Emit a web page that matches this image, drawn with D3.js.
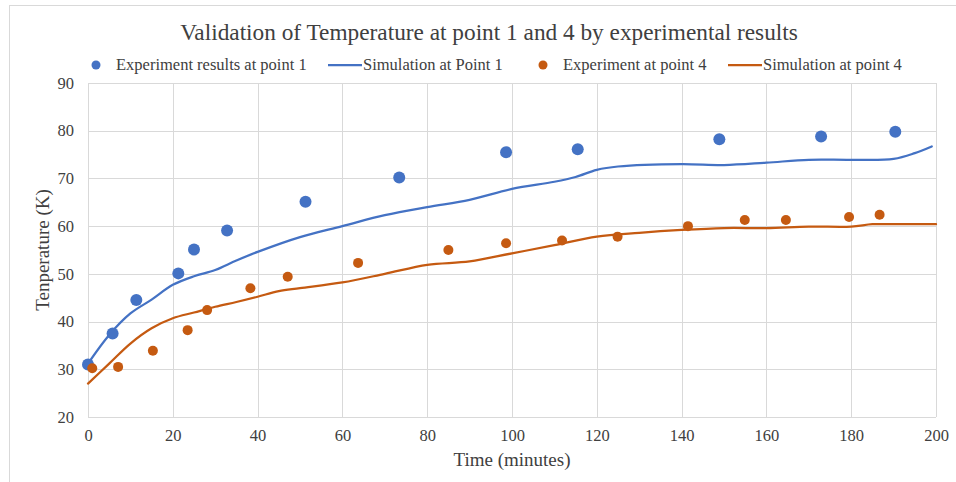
<!DOCTYPE html>
<html>
<head>
<meta charset="utf-8">
<script src="https://cdn.jsdelivr.net/npm/d3@7"></script>
<style>
  body { margin: 0; background: #fff; }
  text { font-family: "Liberation Serif", "Times New Roman", serif; fill: #404040; }
</style>
</head>
<body>
<div id="chart"></div>
<script>
// Experimental points
const expTime1 = [0, 5.8, 11.4, 21.3, 25.0, 32.8, 51.3, 73.4, 98.6, 115.5, 148.9, 172.9, 190.4];
const expTemp1 = [31.0, 37.5, 44.5, 50.1, 55.1, 59.1, 65.1, 70.2, 75.5, 76.1, 78.2, 78.8, 79.8];

const expTime4 = [1.0, 7.1, 15.3, 23.5, 28.1, 38.3, 47.1, 63.7, 85.0, 98.6, 111.8, 124.9, 141.5, 154.9, 164.6, 179.5, 186.7];
const expTemp4 = [30.2, 30.5, 33.9, 38.2, 42.4, 47.0, 49.4, 52.3, 55.0, 56.4, 57.0, 57.8, 60.0, 61.3, 61.3, 61.9, 62.4];

// Simulation curves
const simTime1 = [0, 5, 10, 15, 20, 25, 30, 35, 40, 50, 60, 70, 80, 90, 100, 110, 115, 120, 125, 140, 150, 160, 170, 180, 190, 195, 199];
const simTemp1 = [31.2, 37.2, 41.7, 44.6, 47.7, 49.5, 50.8, 52.8, 54.6, 57.7, 60.0, 62.3, 64.0, 65.5, 67.8, 69.3, 70.3, 71.8, 72.5, 73.0, 72.8, 73.3, 73.9, 73.9, 74.1, 75.3, 76.7];

const simTime4 = [0, 5, 10, 15, 20, 25, 30, 35, 40, 45, 50, 60, 70, 80, 90, 100, 110, 120, 130, 140, 150, 160, 170, 180, 185, 190, 200];
const simTemp4 = [27.0, 31.2, 35.4, 38.6, 40.7, 41.9, 43.1, 44.1, 45.2, 46.4, 47.0, 48.2, 50.0, 51.9, 52.6, 54.3, 56.0, 57.8, 58.6, 59.2, 59.6, 59.6, 59.9, 59.9, 60.4, 60.4, 60.4];

const xTicks = [0, 20, 40, 60, 80, 100, 120, 140, 160, 180, 200];
const yTicks = [20, 30, 40, 50, 60, 70, 80, 90];

const blue = "#4472C4";
const orange = "#C55A11";
const grid = "#d9d9d9";

const W = 956, H = 482;
const margin = { top: 83, right: 20, bottom: 65, left: 88 };
const width = W - margin.left - margin.right;
const height = H - margin.top - margin.bottom;

const svgRoot = d3.select("#chart").append("svg")
    .attr("width", W)
    .attr("height", H);

// chart frame
svgRoot.append("rect")
    .attr("x", 9.5).attr("y", 5.5)
    .attr("width", 980).attr("height", 500)
    .attr("fill", "none")
    .attr("stroke", grid);

const svg = svgRoot.append("g")
    .attr("transform", `translate(${margin.left},${margin.top})`);

const x = d3.scaleLinear().domain([0, 200]).range([0, width]);
const y = d3.scaleLinear().domain([20, 90]).range([height, 0]);

// gridlines
svg.append("g")
    .selectAll("line")
    .data(yTicks)
    .join("line")
    .attr("x1", 0).attr("x2", width)
    .attr("y1", d => Math.round(y(d)) + 0.5)
    .attr("y2", d => Math.round(y(d)) + 0.5)
    .attr("stroke", grid);

svg.append("g")
    .selectAll("line")
    .data(xTicks)
    .join("line")
    .attr("y1", 0).attr("y2", height)
    .attr("x1", d => Math.round(x(d)) + 0.5)
    .attr("x2", d => Math.round(x(d)) + 0.5)
    .attr("stroke", grid);

// axes (labels only, the gridlines act as axis lines)
const xAxis = svg.append("g")
    .attr("transform", `translate(0,${height})`)
    .call(d3.axisBottom(x).tickValues(xTicks).tickSize(0).tickPadding(12));
xAxis.select(".domain").remove();
xAxis.selectAll("text").style("font-size", "16.5px").attr("fill", "#404040");

const yAxis = svg.append("g")
    .call(d3.axisLeft(y).tickValues(yTicks).tickSize(0).tickPadding(14));
yAxis.select(".domain").remove();
yAxis.selectAll("text").style("font-size", "16.5px").attr("fill", "#404040");

// lines
const line = d3.line()
    .x(d => x(d[0]))
    .y(d => y(d[1]))
    .curve(d3.curveCatmullRom.alpha(0.5));

svg.append("path")
    .datum(simTime1.map((t, i) => [t, simTemp1[i]]))
    .attr("d", line)
    .attr("fill", "none")
    .attr("stroke", blue)
    .attr("stroke-width", 2.25)
    .attr("stroke-linecap", "round");

svg.append("path")
    .datum(simTime4.map((t, i) => [t, simTemp4[i]]))
    .attr("d", line)
    .attr("fill", "none")
    .attr("stroke", orange)
    .attr("stroke-width", 2.25)
    .attr("stroke-linecap", "round");

// experiment points
svg.append("g")
    .selectAll("circle")
    .data(expTime1.map((t, i) => [t, expTemp1[i]]))
    .join("circle")
    .attr("cx", d => x(d[0]))
    .attr("cy", d => y(d[1]))
    .attr("r", 6)
    .attr("fill", blue);

svg.append("g")
    .selectAll("circle")
    .data(expTime4.map((t, i) => [t, expTemp4[i]]))
    .join("circle")
    .attr("cx", d => x(d[0]))
    .attr("cy", d => y(d[1]))
    .attr("r", 5)
    .attr("fill", orange);

// title
svgRoot.append("text")
    .attr("x", 489)
    .attr("y", 40)
    .attr("text-anchor", "middle")
    .style("font-size", "23.3px")
    .attr("fill", "#000")
    .text("Validation of Temperature at point 1 and 4 by experimental results");

// axis titles
svgRoot.append("text")
    .attr("x", margin.left + width / 2)
    .attr("y", 466)
    .attr("text-anchor", "middle")
    .style("font-size", "19px")
    .attr("fill", "#000")
    .text("Time (minutes)");

svgRoot.append("text")
    .attr("transform", `translate(49,${margin.top + height / 2}) rotate(-90)`)
    .attr("text-anchor", "middle")
    .style("font-size", "19px")
    .attr("fill", "#000")
    .text("Tenperature (K)");

// legend
const legendY = 65;
const legendItems = [
    { type: "dot", color: blue, x: 96, label: "Experiment results at point 1", tx: 116 },
    { type: "line", color: blue, x: 328, label: "Simulation at Point 1", tx: 363 },
    { type: "dot", color: orange, x: 543, label: "Experiment at point 4", tx: 563 },
    { type: "line", color: orange, x: 728, label: "Simulation at point 4", tx: 763 }
];
const legend = svgRoot.append("g");
legendItems.forEach(d => {
    if (d.type === "dot") {
        legend.append("circle")
            .attr("cx", d.x).attr("cy", legendY).attr("r", 4.5)
            .attr("fill", d.color);
    } else {
        legend.append("line")
            .attr("x1", d.x).attr("x2", d.x + 34)
            .attr("y1", legendY).attr("y2", legendY)
            .attr("stroke", d.color).attr("stroke-width", 2.25);
    }
    legend.append("text")
        .attr("x", d.tx)
        .attr("y", legendY + 5)
        .style("font-size", "16.5px")
        .attr("fill", "#000")
        .text(d.label);
});
</script>
</body>
</html>
